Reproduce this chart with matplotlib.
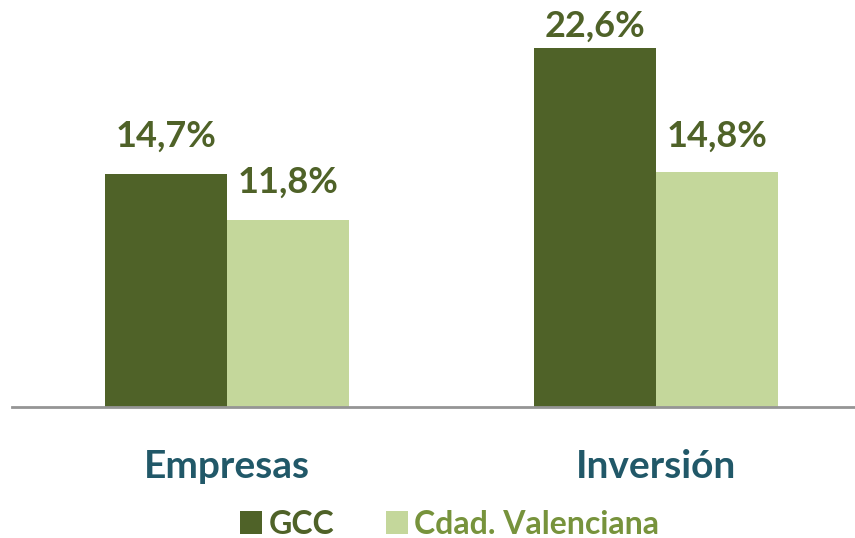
import matplotlib.pyplot as plt
import numpy as np

plt.rcParams['font.family'] = ['Lato', 'DejaVu Sans']
plt.rcParams['font.weight'] = 'bold'

categorias = ['Empresas', 'Inversión']
series = ['GCC', 'Cdad. Valenciana']
gcc = [14.7, 22.6]
cdad_val = [11.8, 14.8]
etiquetas_gcc = ['14,7%', '22,6%']
etiquetas_cv = ['11,8%', '14,8%']

c_oscuro = '#4F6228'
c_claro = '#C4D79B'
c_texto_leyenda = ['#4F6228', '#77933C']
c_categoria = '#215868'

fig = plt.figure(figsize=(8.55, 5.38), dpi=100)
ax = fig.add_axes([12 / 855, 131 / 538, 843 / 855, 397 / 538])

x = np.arange(len(categorias))
w = 0.284
b1 = ax.bar(x - w / 2, gcc, w, color=c_oscuro, label=series[0])
b2 = ax.bar(x + w / 2, cdad_val, w, color=c_claro, label=series[1])

off_gcc = [15, 4]
off_cv = [15, 14]
for i, r in enumerate(b1):
    ax.annotate(etiquetas_gcc[i], (r.get_x() + r.get_width() / 2, r.get_height()),
                xytext=(0, off_gcc[i]), textcoords='offset points',
                ha='center', va='bottom', fontsize=26, color=c_oscuro, fontweight='bold')
for i, r in enumerate(b2):
    ax.annotate(etiquetas_cv[i], (r.get_x() + r.get_width() / 2, r.get_height()),
                xytext=(0, off_cv[i]), textcoords='offset points',
                ha='center', va='bottom', fontsize=26, color=c_oscuro, fontweight='bold')

ax.set_xlim(-0.502, 1.464)
ax.set_ylim(0, 25)
for s in ['top', 'right', 'left']:
    ax.spines[s].set_visible(False)
ax.spines['bottom'].set_color('#959595')
ax.spines['bottom'].set_linewidth(2)
ax.set_yticks([])
ax.set_xticks(x)
ax.set_xticklabels(categorias, fontsize=28, color=c_categoria, fontweight='bold')
ax.tick_params(axis='x', length=0, pad=30)

leg = fig.legend(loc='center', bbox_to_anchor=(0.526, 0.026), ncol=2, frameon=False,
                 fontsize=23, handlelength=0.7, handleheight=0.7,
                 handletextpad=0.2, columnspacing=1.6)
for t, c in zip(leg.get_texts(), c_texto_leyenda):
    t.set_color(c)
    t.set_fontweight('bold')

fig.savefig('out.png', dpi=100)
